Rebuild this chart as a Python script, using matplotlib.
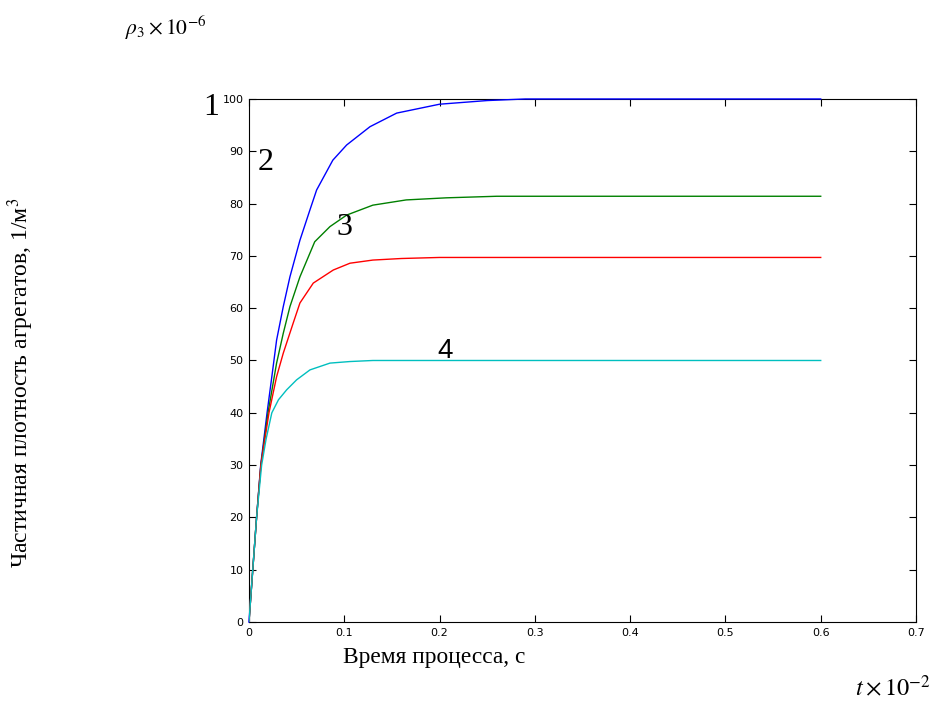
import matplotlib
matplotlib.use('Agg')
import matplotlib.pyplot as plt

plt.rcParams['mathtext.fontset'] = 'stix'

# values (t in 1e-2 s, rho3 in 1e6 1/m^3)
t_blue  = [0, 0.004, 0.008, 0.0123, 0.019, 0.024, 0.029, 0.036, 0.043, 0.0535, 0.064, 0.071,
           0.088, 0.1025, 0.127, 0.155, 0.2, 0.25, 0.29, 0.6]
v_blue  = [0, 10, 20, 30, 40, 46.9, 53.9, 60.3, 66, 73, 78.8, 82.6,
           88.3, 91.2, 94.7, 97.3, 99.0, 99.7, 100, 100]
t_green = [0, 0.004, 0.008, 0.0125, 0.02, 0.029, 0.036, 0.043, 0.0535, 0.069, 0.085, 0.1025,
           0.13, 0.165, 0.207, 0.26, 0.6]
v_green = [0, 10, 20, 30, 40, 49.5, 55.2, 60.3, 66, 72.7, 75.6, 77.8,
           79.7, 80.7, 81.1, 81.4, 81.4]
t_red   = [0, 0.004, 0.008, 0.0125, 0.021, 0.029, 0.036, 0.0465, 0.0535, 0.0675, 0.0885, 0.106,
           0.13, 0.16, 0.2, 0.6]
v_red   = [0, 10, 20, 30, 40, 46.9, 51.4, 57.2, 61, 64.8, 67.3, 68.6,
           69.2, 69.5, 69.7, 69.7]
t_cyan  = [0, 0.004, 0.008, 0.0133, 0.018, 0.024, 0.031, 0.0396, 0.05, 0.064, 0.085, 0.106, 0.13, 0.6]
v_cyan  = [0, 10, 20, 30, 35, 40, 42.5, 44.4, 46.3, 48.2, 49.5, 49.8, 50, 50]

x_ticks = [0, 0.1, 0.2, 0.3, 0.4, 0.5, 0.6, 0.7]
y_ticks = [0, 10, 20, 30, 40, 50, 60, 70, 80, 90, 100]

fig = plt.figure(figsize=(9.37, 7.01), dpi=100)
ax = fig.add_axes([0.2657, 0.1127, 0.7119, 0.7461])

ax.plot(t_blue, v_blue, color='#0000ff', lw=1, zorder=3, clip_on=False)
ax.plot(t_green, v_green, color='#008000', lw=1, zorder=3)
ax.plot(t_red, v_red, color='#ff0000', lw=1, zorder=3)
ax.plot(t_cyan, v_cyan, color='#00bfbf', lw=1, zorder=3)

ax.set_xlim(0, 0.7)
ax.set_ylim(0, 100)
ax.set_xticks(x_ticks)
ax.set_yticks(y_ticks)
ax.set_xticklabels([str(v) if v != 0 else '0' for v in x_ticks])
ax.tick_params(direction='in', length=5, width=0.8, top=True, right=True,
               labelsize=8, pad=4, colors='black')
for s in ax.spines.values():
    s.set_linewidth(0.8)

serif = 'Liberation Serif'
ax.text(-0.040, 98.3, '1', fontsize=23, family=serif, ha='center', va='center', clip_on=False)
ax.text(0.0178, 87.8, '2', fontsize=23, family=serif, ha='center', va='center')
ax.text(0.1007, 75.4, '3', fontsize=23, family=serif, ha='center', va='center')
ax.text(0.2057, 51.8, '4', fontsize=20, family='Liberation Sans', ha='center', va='center')

fig.text(343/937, 1 - 663/701, 'Время процесса, с', fontsize=16.8, family=serif,
         ha='left', va='baseline')
fig.text(36/937, 1 - 383/701, 'Частичная плотность агрегатов, 1/м$^3$', fontsize=17,
         family=serif, rotation=90, ha='right', va='center')
fig.text(125/937, 1 - 35/701, r'$\rho_3\times10^{-6}$', fontsize=15.5, ha='left', va='baseline')
fig.text(931/937, 1 - 696/701, r'$t\times10^{-2}$', fontsize=17.5, ha='right', va='baseline')

fig.savefig('out.png', dpi=100)
